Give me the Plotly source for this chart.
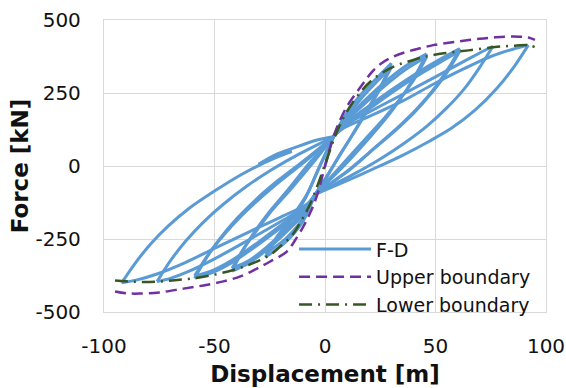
import plotly.graph_objects as go

# ---- Force-displacement hysteresis path, cycle by cycle ----
start_x = [0, 2, 3.8]
start_y = [0, 55, 100]

c30a_x = [9, 16, 23, 30, 27, 22, 15, 7, 0, -4.5, -10, -18, -27, -23, -16, -9, -3, 3.8]
c30a_y = [172, 243, 298, 352, 300, 230, 140, 40, -45, -97, -190, -262, -312, -262, -192, -112, -10, 100]

c30b_x = [9, 16, 23, 30, 26, 21, 14, 6, 0, -4.5, -10, -18, -27, -22, -15, -8, -2, 3.8]
c30b_y = [160, 228, 285, 338, 280, 212, 125, 30, -48, -97, -180, -250, -300, -245, -175, -95, 5, 100]

c46a_x = [8, 16, 26, 36, 46, 42, 37, 30, 21, 10, -4.5, -8, -16, -26, -34, -42, -38, -33, -26, -17, -7, 3.8]
c46a_y = [150, 210, 280, 340, 384, 326, 262, 186, 104, 12, -97, -150, -215, -285, -330, -360, -300, -238, -165, -84, 10, 100]

c46b_x = [8, 16, 26, 36, 46, 41, 35, 27, 17, 6, -4.5, -8, -16, -26, -34, -42, -37, -31, -24, -15, -5, 3.8]
c46b_y = [142, 200, 268, 328, 374, 305, 240, 165, 82, -10, -97, -142, -205, -275, -322, -350, -285, -222, -152, -75, 15, 100]

c61a_x = [8, 18, 30, 42, 52, 61, 56, 50, 42, 33, 23, 12, -4.5,
          -8, -18, -30, -42, -51, -59, -54, -48, -40, -31, -21, -10, 3.8]
c61a_y = [140, 195, 260, 320, 365, 402, 337, 271, 199, 132, 66, -8, -97,
          -140, -200, -268, -330, -365, -384, -319, -253, -181, -113, -48, 16, 100]

c61b_x = [8, 18, 30, 42, 52, 61, 55, 48, 40, 31, 21, 10, -4.5,
          -8, -18, -30, -42, -51, -59, -53, -46, -38, -29, -19, -8, 3.8]
c61b_y = [133, 185, 250, 310, 355, 394, 318, 248, 180, 116, 52, -18, -97,
          -133, -192, -260, -322, -358, -376, -305, -238, -172, -108, -44, 22, 100]

c76_x = [8, 20, 35, 50, 62, 70, 76, 70, 63, 55, 46, 36, 25, 13, -4.5,
         -8, -20, -35, -50, -62, -70, -76, -70, -63, -55, -46, -35, -24, -12, 3.8]
c76_y = [135, 185, 245, 305, 355, 387, 410, 338, 264, 198, 136, 79, 24, -28, -97,
         -135, -190, -255, -318, -362, -385, -396, -325, -257, -192, -131, -67, -12, 40, 100]

c92_x = [8, 20, 35, 49, 62, 75, 85, 92, 86, 78, 68, 57, 47, 36, 23, 10, -4.5,
         -8, -20, -35, -50, -63, -76, -85, -92,
         -86, -79, -71, -62, -50, -38, -31, -23, -15, -22, -30, -22, -14, -4, 3.8]
c92_y = [128, 170, 222, 280, 330, 375, 400, 414, 345, 268, 192, 128, 84, 40, -6, -50, -97,
         -130, -175, -228, -282, -330, -370, -390, -400,
         -334, -268, -206, -148, -86, -30, -2, 26, 50, 38, 6, 40, 62, 88, 100]

fd_x = start_x + c30a_x + c30b_x + c46a_x + c46b_x + c61a_x + c61b_x + c76_x + c92_x
fd_y = start_y + c30a_y + c30b_y + c46a_y + c46b_y + c61a_y + c61b_y + c76_y + c92_y
pinch_points = [(3.8, 100), (-4.5, -97)]

# ---- Boundary curves ----
upper_x = [-95, -90, -84, -75, -64, -55, -46, -38, -31, -25, -17.3, -13.6, -10, -7, -3.8, 0,
           3.8, 7, 10, 13.6, 17.3, 21, 25.6, 31, 37, 43, 49, 56, 62.6, 70, 76, 82, 88, 92, 95]
upper_y = [-430, -436, -437, -433, -420, -409, -395, -377, -352, -328, -293, -255, -210, -165, -105, 0,
           100, 160, 205, 245, 283, 320, 352, 375, 391, 403, 414, 422, 429, 436, 440, 443, 443, 440, 432]
lower_x = [-95, -90, -84, -76, -68, -59, -50, -41.5, -35, -29.4, -24, -20.4, -15, -11.3, -8, -5.3, 0,
           5, 9.8, 16.6, 21.9, 31, 40, 47.5, 56, 65, 78, 86, 92, 95]
lower_y = [-392, -395, -397, -396, -391, -384, -372, -356, -340, -322, -300, -276, -238, -195, -150, -105, 5,
           110, 185, 258, 298, 340, 363, 378, 388, 396, 408, 412, 414, 407]

x_ticks = [-100, -50, 0, 50, 100]
x_labels = ["-100", "-50", "0", "50", "100"]
y_ticks = [-500, -250, 0, 250, 500]
y_labels = ["-500", "-250", "0", "250", "500"]

FONT = "DejaVu Sans"
BLUE = "#5B9BD5"
PURPLE = "#7030A0"
GREEN = "#375623"

# split the path into monotonic branches (at reversals and pinch points)
segments = []
cur = [0]
n = len(fd_x)
for i in range(1, n):
    cur.append(i)
    if i < n - 1:
        d1 = fd_x[i] - fd_x[i - 1]
        d2 = fd_x[i + 1] - fd_x[i]
        if d1 * d2 < 0 or (fd_x[i], fd_y[i]) in pinch_points:
            segments.append(cur)
            cur = [i]
segments.append(cur)

fig = go.Figure()
for k, seg in enumerate(segments):
    fig.add_trace(go.Scatter(
        x=[fd_x[i] for i in seg], y=[fd_y[i] for i in seg],
        mode="lines", name="F-D", legendgroup="fd", showlegend=(k == 0),
        line=dict(color=BLUE, width=3, shape="spline", smoothing=0.8),
        hoverinfo="skip"))

fig.add_trace(go.Scatter(x=upper_x, y=upper_y, mode="lines", name="Upper boundary",
                         line=dict(color=PURPLE, width=2.5, dash="11px,6px", shape="spline")))
fig.add_trace(go.Scatter(x=lower_x, y=lower_y, mode="lines", name="Lower boundary",
                         line=dict(color=GREEN, width=2.5, dash="13px,6px,2px,6px", shape="spline")))

axis_common = dict(showgrid=True, gridcolor="#d9d9d9", gridwidth=1.3, automargin=False,
                   showline=True, mirror=True, linecolor="#d9d9d9", linewidth=1.3,
                   zeroline=False, ticks="", tickfont=dict(family=FONT, size=20, color="#111"))

fig.update_layout(
    width=566, height=388,
    margin=dict(l=104, r=20, t=20, b=76),
    paper_bgcolor="white", plot_bgcolor="white",
    xaxis=dict(range=[-100, 100], tickvals=x_ticks, ticktext=x_labels, ticklabelstandoff=16,
               title=dict(text="<b>Displacement [m]</b>", standoff=8,
                          font=dict(family=FONT, size=23, color="#111")),
               **axis_common),
    yaxis=dict(range=[-500, 500], tickvals=y_ticks, ticktext=y_labels, ticklabelstandoff=18,
               title=dict(text="<b>Force [kN]</b>", standoff=0,
                          font=dict(family=FONT, size=23, color="#111")),
               **axis_common),
    legend=dict(x=0.43, y=0.28, xanchor="left", yanchor="top",
                bgcolor="rgba(0,0,0,0)", itemwidth=72, tracegroupgap=0,
                font=dict(family=FONT, size=19, color="#111")),
    showlegend=True,
)

fig.write_html("out.html")
